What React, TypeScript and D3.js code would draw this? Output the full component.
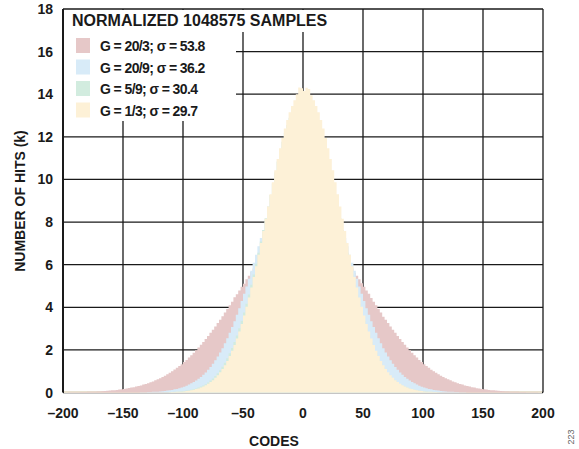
import React from 'react';
import * as d3 from 'd3';

// histogram bins, 2 codes wide, left edges from -200 to 198
const binCodes = d3.range(-200, 200, 2);

// hits per code (k), left half then right half
const hitsG20over3 = [
  0, 0, 0.01, 0.01, 0.01, 0.01, 0.01, 0.02, 0.02, 0.02,
  0.03, 0.03, 0.04, 0.04, 0.05, 0.05, 0.06, 0.07, 0.08, 0.09,
  0.10, 0.11, 0.12, 0.14, 0.15, 0.17, 0.19, 0.21, 0.23, 0.25,
  0.28, 0.30, 0.33, 0.37, 0.40, 0.44, 0.48, 0.52, 0.57, 0.62,
  0.67, 0.73, 0.79, 0.86, 0.93, 1.00, 1.08, 1.16, 1.24, 1.33,
  1.43, 1.53, 1.64, 1.75, 1.86, 1.98, 2.11, 2.24, 2.37, 2.51,
  2.65, 2.80, 2.95, 3.10, 3.26, 3.41, 3.58, 3.75, 3.92, 4.09,
  4.26, 4.47, 4.61, 4.79, 4.96, 5.10, 5.31, 5.48, 5.65, 5.82,
  5.98, 6.17, 6.30, 6.45, 6.59, 6.73, 6.83, 6.98, 7.10, 7.21,
  7.31, 7.40, 7.51, 7.56, 7.62, 7.64, 7.71, 7.75, 7.80, 7.78,
  // right half
  7.76, 7.77, 7.75, 7.71, 7.70, 7.62, 7.56, 7.48, 7.40, 7.28,
  7.21, 7.10, 6.98, 6.86, 6.73, 6.62, 6.45, 6.30, 6.14, 5.98,
  5.82, 5.62, 5.48, 5.31, 5.13, 4.96, 4.79, 4.64, 4.44, 4.26,
  4.09, 3.92, 3.75, 3.55, 3.41, 3.26, 3.10, 2.94, 2.80, 2.65,
  2.51, 2.37, 2.24, 2.11, 1.98, 1.86, 1.75, 1.64, 1.53, 1.43,
  1.33, 1.24, 1.16, 1.07, 1.00, 0.93, 0.86, 0.79, 0.73, 0.67,
  0.62, 0.57, 0.52, 0.48, 0.44, 0.40, 0.37, 0.33, 0.30, 0.28,
  0.25, 0.23, 0.20, 0.19, 0.17, 0.15, 0.14, 0.12, 0.11, 0.10,
  0.09, 0.08, 0.07, 0.06, 0.05, 0.05, 0.04, 0.04, 0.03, 0.03,
  0.02, 0.02, 0.02, 0.01, 0.01, 0.01, 0.01, 0.01, 0, 0,
];

const hitsG20over9 = [
  0, 0, 0, 0, 0, 0, 0, 0, 0, 0,
  0, 0, 0, 0, 0, 0, 0, 0, 0, 0,
  0, 0, 0, 0, 0, 0, 0, 0, 0, 0,
  0, 0, 0.01, 0.01, 0.01, 0.02, 0.02, 0.03, 0.04, 0.04,
  0.05, 0.06, 0.07, 0.09, 0.10, 0.12, 0.15, 0.17, 0.20, 0.24,
  0.27, 0.32, 0.37, 0.43, 0.49, 0.56, 0.64, 0.73, 0.83, 0.94,
  1.07, 1.20, 1.35, 1.51, 1.69, 1.88, 2.08, 2.31, 2.55, 2.80,
  3.07, 3.35, 3.65, 3.96, 4.29, 4.63, 4.98, 5.34, 5.71, 6.09,
  6.47, 6.86, 7.25, 7.63, 8.01, 8.39, 8.76, 9.11, 9.45, 9.77,
  10.07, 10.35, 10.61, 10.84, 11.04, 11.21, 11.35, 11.45, 11.52, 11.56,
  // right half
  11.56, 11.52, 11.45, 11.35, 11.21, 11.04, 10.84, 10.61, 10.35, 10.07,
  9.77, 9.45, 9.11, 8.76, 8.39, 8.01, 7.63, 7.25, 6.86, 6.47,
  6.09, 5.71, 5.34, 4.98, 4.63, 4.29, 3.96, 3.65, 3.35, 3.07,
  2.80, 2.55, 2.31, 2.08, 1.88, 1.69, 1.51, 1.35, 1.20, 1.07,
  0.94, 0.83, 0.73, 0.64, 0.56, 0.49, 0.43, 0.37, 0.32, 0.27,
  0.24, 0.20, 0.17, 0.15, 0.12, 0.10, 0.09, 0.07, 0.06, 0.05,
  0.04, 0.04, 0.03, 0.02, 0.02, 0.01, 0.01, 0.01, 0, 0,
  0, 0, 0, 0, 0, 0, 0, 0, 0, 0,
  0, 0, 0, 0, 0, 0, 0, 0, 0, 0,
  0, 0, 0, 0, 0, 0, 0, 0, 0, 0,
];

const hitsG5over9 = [
  0, 0, 0, 0, 0, 0, 0, 0, 0, 0,
  0, 0, 0, 0, 0, 0, 0, 0, 0, 0,
  0, 0, 0, 0, 0, 0, 0, 0, 0, 0,
  0, 0, 0, 0, 0, 0, 0, 0, 0, 0,
  0, 0, 0.01, 0.01, 0.02, 0.02, 0.03, 0.04, 0.05, 0.06,
  0.07, 0.09, 0.10, 0.13, 0.16, 0.19, 0.23, 0.28, 0.33, 0.39,
  0.47, 0.56, 0.66, 0.77, 0.90, 1.05, 1.21, 1.40, 1.61, 1.84,
  2.09, 2.37, 2.68, 3.01, 3.37, 3.75, 4.16, 4.60, 5.06, 5.54,
  6.04, 6.56, 7.09, 7.63, 8.18, 8.73, 9.27, 9.81, 10.34, 10.84,
  11.32, 11.77, 12.18, 12.56, 12.89, 13.17, 13.40, 13.57, 13.69, 13.75,
  // right half
  13.75, 13.69, 13.57, 13.40, 13.17, 12.89, 12.56, 12.18, 11.77, 11.32,
  10.84, 10.34, 9.81, 9.27, 8.73, 8.18, 7.63, 7.09, 6.56, 6.04,
  5.54, 5.06, 4.60, 4.16, 3.75, 3.37, 3.01, 2.68, 2.37, 2.09,
  1.84, 1.61, 1.40, 1.21, 1.05, 0.90, 0.77, 0.66, 0.56, 0.47,
  0.39, 0.33, 0.28, 0.23, 0.19, 0.16, 0.13, 0.10, 0.09, 0.07,
  0.06, 0.05, 0.04, 0.03, 0.02, 0.02, 0.01, 0.01, 0, 0,
  0, 0, 0, 0, 0, 0, 0, 0, 0, 0,
  0, 0, 0, 0, 0, 0, 0, 0, 0, 0,
  0, 0, 0, 0, 0, 0, 0, 0, 0, 0,
  0, 0, 0, 0, 0, 0, 0, 0, 0, 0,
];

const hitsG1over3 = [
  0, 0, 0, 0, 0, 0, 0, 0, 0, 0,
  0, 0, 0, 0, 0, 0, 0, 0, 0, 0,
  0, 0, 0, 0, 0, 0, 0, 0, 0, 0,
  0, 0, 0, 0, 0, 0, 0, 0, 0, 0,
  0, 0, 0, 0, 0.01, 0.02, 0.02, 0.03, 0.03, 0.04,
  0.05, 0.07, 0.08, 0.10, 0.13, 0.16, 0.19, 0.23, 0.28, 0.34,
  0.41, 0.49, 0.58, 0.69, 0.81, 0.95, 1.10, 1.28, 1.48, 1.71,
  1.96, 2.23, 2.53, 2.86, 3.22, 3.61, 4.02, 4.46, 4.93, 5.42,
  5.93, 6.47, 7.02, 7.58, 8.16, 8.73, 9.30, 9.87, 10.43, 10.96,
  11.47, 11.95, 12.39, 12.79, 13.15, 13.45, 13.72, 14.00, 14.32, 14.28,
  // right half
  14.15, 14.30, 14.25, 13.95, 13.72, 13.45, 13.15, 12.79, 12.39, 11.95,
  11.47, 10.96, 10.43, 9.87, 9.30, 8.73, 8.16, 7.58, 7.02, 6.47,
  5.93, 5.42, 4.93, 4.46, 4.02, 3.61, 3.22, 2.86, 2.53, 2.23,
  1.96, 1.71, 1.48, 1.28, 1.10, 0.95, 0.81, 0.69, 0.58, 0.49,
  0.41, 0.34, 0.28, 0.23, 0.19, 0.16, 0.13, 0.10, 0.08, 0.07,
  0.05, 0.04, 0.03, 0.03, 0.02, 0.02, 0.01, 0, 0, 0,
  0, 0, 0, 0, 0, 0, 0, 0, 0, 0,
  0, 0, 0, 0, 0, 0, 0, 0, 0, 0,
  0, 0, 0, 0, 0, 0, 0, 0, 0, 0,
  0, 0, 0, 0, 0, 0, 0, 0, 0, 0,
];

const seriesLabels = ['G = 20/3; σ = 53.8', 'G = 20/9; σ = 36.2', 'G = 5/9; σ = 30.4', 'G = 1/3; σ = 29.7'];
const seriesColors = ['#e6c8c8', '#d8ebf8', '#d2ecdf', '#fdf1d7'];
const seriesHits = [hitsG20over3, hitsG20over9, hitsG5over9, hitsG1over3];

const xTicks = [-200, -150, -100, -50, 0, 50, 100, 150, 200];
const yTicks = [0, 2, 4, 6, 8, 10, 12, 14, 16, 18];

const font = 'Arial, "Liberation Sans", sans-serif';

export default function App() {
  const width = 579;
  const height = 449;
  const x = d3.scaleLinear().domain([-200, 200]).range([63, 543]);
  const y = d3.scaleLinear().domain([0, 18]).range([392.5, 9]);

  const area = d3.area<[number, number]>()
    .x(d => x(d[0]))
    .y0(y(0))
    .y1(d => y(d[1]))
    .curve(d3.curveStepAfter);

  const gridColor = '#1a1a1a';

  return (
    <svg width={width} height={height} style={{ position: 'absolute', left: 0, top: 0, background: '#fff' }}>
      {/* grid */}
      {yTicks.map(t => (
        <line key={'gy' + t} x1={x(-200)} x2={x(200)} y1={y(t)} y2={y(t)} stroke={gridColor} strokeWidth={1.3} />
      ))}
      {xTicks.map(t => (
        <line key={'gx' + t} x1={x(t)} x2={x(t)} y1={y(18)} y2={y(0)} stroke={gridColor} strokeWidth={t === -200 ? 2 : 1.3} />
      ))}

      {/* legend background hides the grid */}
      <rect x={x(-200) + 1} y={y(18) + 1} width={272} height={22} fill="#fff" />
      <rect x={x(-200) + 1} y={y(18) + 1} width={172} height={111} fill="#fff" />

      {/* pale floor of the tails */}
      <line x1={x(-200) + 1} x2={x(200) - 1} y1={y(0) - 0.5} y2={y(0) - 0.5} stroke="#e9e1cf" strokeWidth={2} />

      {/* histograms, widest first */}
      {seriesHits.map((vals, si) => {
        const pts: [number, number][] = binCodes.map((c, i) => [c, vals[i]] as [number, number]);
        pts.push([200, vals[vals.length - 1]]);
        return <path key={'s' + si} d={area(pts) || ''} fill={seriesColors[si]} />;
      })}

      {/* legend */}
      <text x={72} y={26} fontFamily={font} fontWeight="bold" fontSize={16} fill="#1a1a1a">NORMALIZED 1048575 SAMPLES</text>
      {seriesLabels.map((lab, i) => (
        <g key={'lg' + i} transform={`translate(76, ${38 + i * 21.5})`}>
          <rect x={0} y={0} width={14} height={15} fill={seriesColors[i]} />
          <text x={24} y={13} fontFamily={font} fontWeight="bold" fontSize={14} letterSpacing={-0.6} fill="#1a1a1a">{lab}</text>
        </g>
      ))}

      {/* y tick labels */}
      {yTicks.map(t => (
        <text key={'ty' + t} x={53} y={y(t) + 5} textAnchor="end" fontFamily={font} fontWeight="bold" fontSize={14} fill="#1a1a1a">{t}</text>
      ))}
      {/* x tick labels */}
      {xTicks.map(t => (
        <text key={'tx' + t} x={x(t)} y={418} textAnchor="middle" fontFamily={font} fontWeight="bold" fontSize={14} fill="#1a1a1a">
          {t < 0 ? '\u2013' + Math.abs(t) : String(t)}
        </text>
      ))}

      <text x={274} y={446} textAnchor="middle" fontFamily={font} fontWeight="bold" fontSize={14} fill="#1a1a1a">CODES</text>
      <text transform="translate(25, 201) rotate(-90)" textAnchor="middle" fontFamily={font} fontWeight="bold" fontSize={14} fill="#1a1a1a">NUMBER OF HITS (k)</text>
      <text transform="translate(574, 437) rotate(-90)" textAnchor="middle" fontFamily={font} fontSize={9} fill="#666">223</text>
    </svg>
  );
}
